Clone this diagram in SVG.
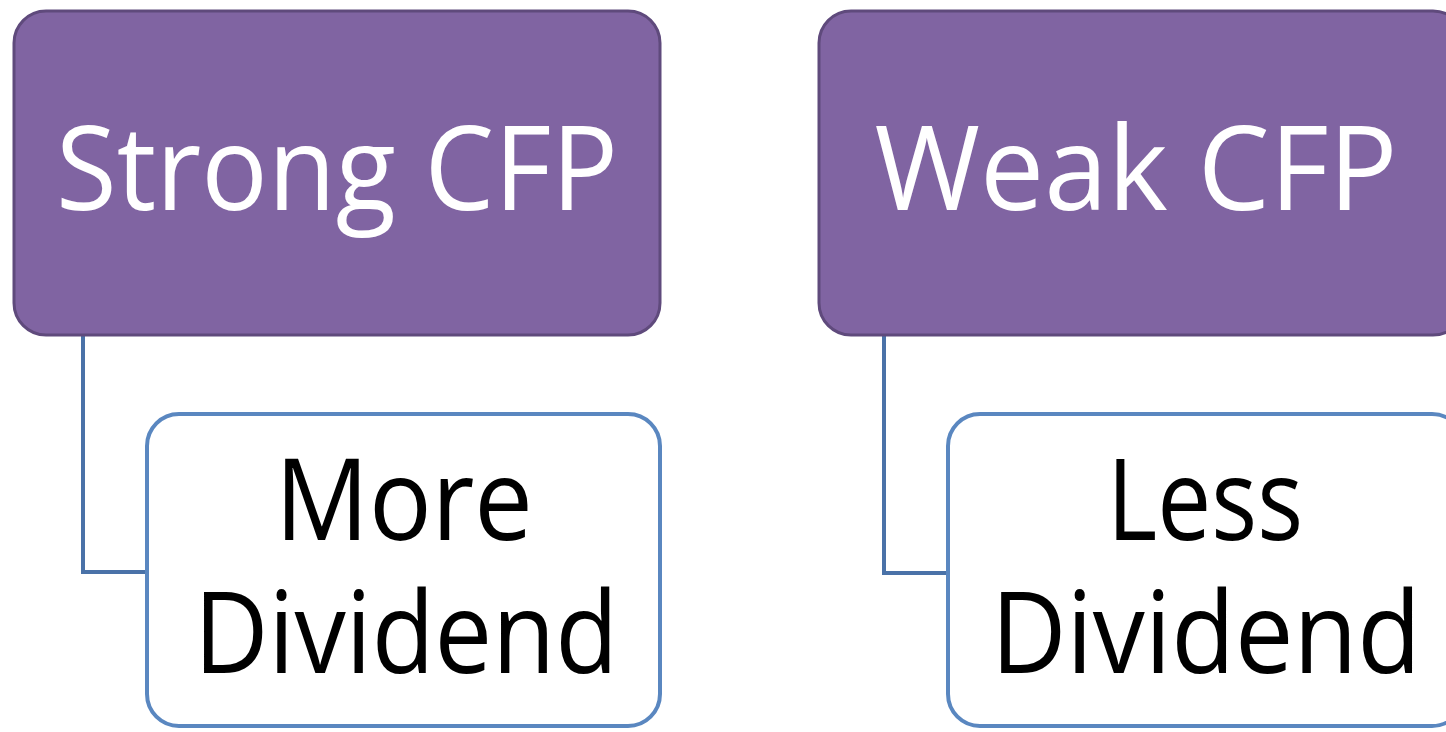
<svg xmlns="http://www.w3.org/2000/svg" width="1446" height="732" viewBox="0 0 1446 732">
  <style>
    .parent { fill: #8064a2; stroke: #5f4a7c; stroke-width: 3; }
    .child { fill: #ffffff; stroke: #5a87c0; stroke-width: 4; }
    .link { fill: none; stroke: #4a72a8; stroke-width: 4; }
    .ptext { font-family: "Open Sans", "Noto Sans", sans-serif; font-size: 118px; fill: #ffffff; text-anchor: middle; }
    .ctext { font-family: "Open Sans", "Noto Sans", sans-serif; font-size: 113px; fill: #000000; text-anchor: middle; }
  </style>
  <rect width="1446" height="732" fill="#ffffff"/>

  <!-- connectors from parent boxes to child boxes -->
  <g id="connectors">
    <path class="link" d="M83 335 V572 H148"/>
    <path class="link" d="M884 335 V573 H949"/>
  </g>

  <g id="strong-cfp">
    <rect class="parent" x="14" y="11" width="646" height="324" rx="32"/>
    <text class="ptext" x="337" y="210" textLength="562" lengthAdjust="spacingAndGlyphs">Strong CFP</text>
  </g>

  <g id="weak-cfp">
    <rect class="parent" x="819" y="11" width="646" height="324" rx="32"/>
    <text class="ptext" x="1136" y="210" textLength="523" lengthAdjust="spacingAndGlyphs">Weak CFP</text>
  </g>

  <g id="more-dividend">
    <rect class="child" x="147" y="414" width="513" height="312" rx="32"/>
    <text class="ctext" x="404" y="540" textLength="258" lengthAdjust="spacingAndGlyphs">More</text>
    <text class="ctext" x="406" y="673" textLength="424" lengthAdjust="spacingAndGlyphs">Dividend</text>
  </g>

  <g id="less-dividend">
    <rect class="child" x="948" y="414" width="516" height="312" rx="32"/>
    <text class="ctext" x="1205" y="540" textLength="196" lengthAdjust="spacingAndGlyphs">Less</text>
    <text class="ctext" x="1206" y="673" textLength="430" lengthAdjust="spacingAndGlyphs">Dividend</text>
  </g>
</svg>
